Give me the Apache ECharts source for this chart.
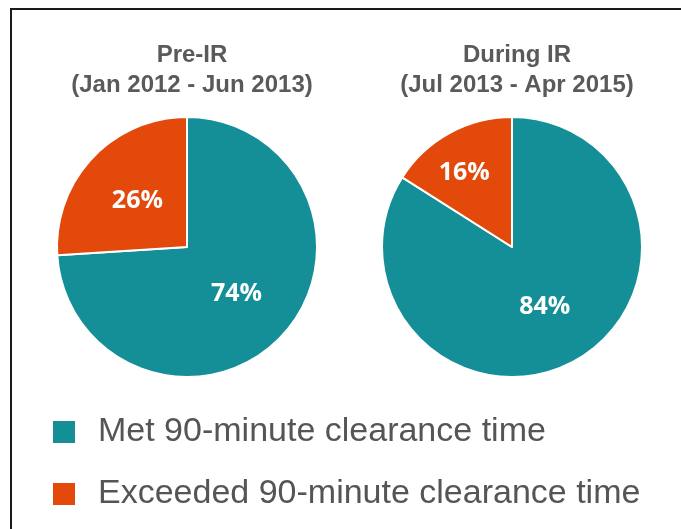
<!DOCTYPE html>
<html>
<head>
<meta charset="utf-8">
<script src="https://cdn.jsdelivr.net/npm/echarts@6/dist/echarts.min.js"></script>
<style>
  html, body { margin: 0; padding: 0; background: #fff; }
  #wrap { position: relative; width: 681px; height: 529px; overflow: hidden; }
  #frame { position: absolute; left: 10px; top: 8px; width: 700px; height: 560px;
           border-left: 2px solid #1a1a1a; border-top: 2px solid #1a1a1a; }
  #report-chart { position: absolute; left: 0; top: 0; width: 681px; height: 529px; }
</style>
</head>
<body>
<div id="wrap">
  <div id="frame"></div>
  <div id="report-chart"></div>
</div>
<script>
var categories = ['Met 90-minute clearance time', 'Exceeded 90-minute clearance time'];
var preIR = [74, 26];
var duringIR = [84, 16];
var titles = ['Pre-IR\n(Jan 2012 - Jun 2013)', 'During IR\n(Jul 2013 - Apr 2015)'];
var colors = ['#148F97', '#E2490A'];

var chartDom = document.getElementById('report-chart');
var myChart = echarts.init(chartDom);
var option;

function pieData(values) {
    return values.map(function (v, i) {
        return { name: categories[i], value: v };
    });
}

var pieLabel = {
    show: true,
    position: 'inside',
    formatter: '{c}%',
    color: '#fff',
    fontFamily: 'Open Sans',
    fontWeight: 'bold',
    fontSize: 25
};

var titleStyle = {
    fontFamily: 'Liberation Sans',
    fontWeight: 'bold',
    fontSize: 24,
    lineHeight: 30,
    color: '#5a5a5a'
};

option = {
    color: colors,
    title: [{
        text: titles[0],
        left: 187,
        top: 35,
        textAlign: 'center',
        textStyle: titleStyle
    }, {
        text: titles[1],
        left: 512,
        top: 35,
        textAlign: 'center',
        textStyle: titleStyle
    }],
    legend: {
        orient: 'vertical',
        left: 46,
        top: 410,
        height: 115,
        itemWidth: 24,
        itemHeight: 24,
        itemGap: 28,
        icon: 'rect',
        selectedMode: false,
        textStyle: {
            fontFamily: 'Liberation Sans',
            fontSize: 34,
            lineHeight: 30,
            color: '#555',
            padding: [0, 0, 0, 17]
        },
        data: categories
    },
    series: [{
        name: 'Pre-IR',
        type: 'pie',
        center: [187, 247],
        radius: 130,
        startAngle: 90,
        clockwise: true,
        silent: true,
        itemStyle: { borderColor: '#fff', borderWidth: 2 },
        label: pieLabel,
        labelLine: { show: false },
        data: pieData(preIR)
    }, {
        name: 'During IR',
        type: 'pie',
        center: [512, 247],
        radius: 130,
        startAngle: 90,
        clockwise: true,
        silent: true,
        itemStyle: { borderColor: '#fff', borderWidth: 2 },
        label: pieLabel,
        labelLine: { show: false },
        // small slice label sits further out in the original
        labelLayout: function (params) {
            if (params.dataIndex === 1) {
                return { dx: -15, dy: -15 };
            }
            return {};
        },
        data: pieData(duringIR)
    }]
};
option && myChart.setOption(option);
</script>
</body>
</html>
